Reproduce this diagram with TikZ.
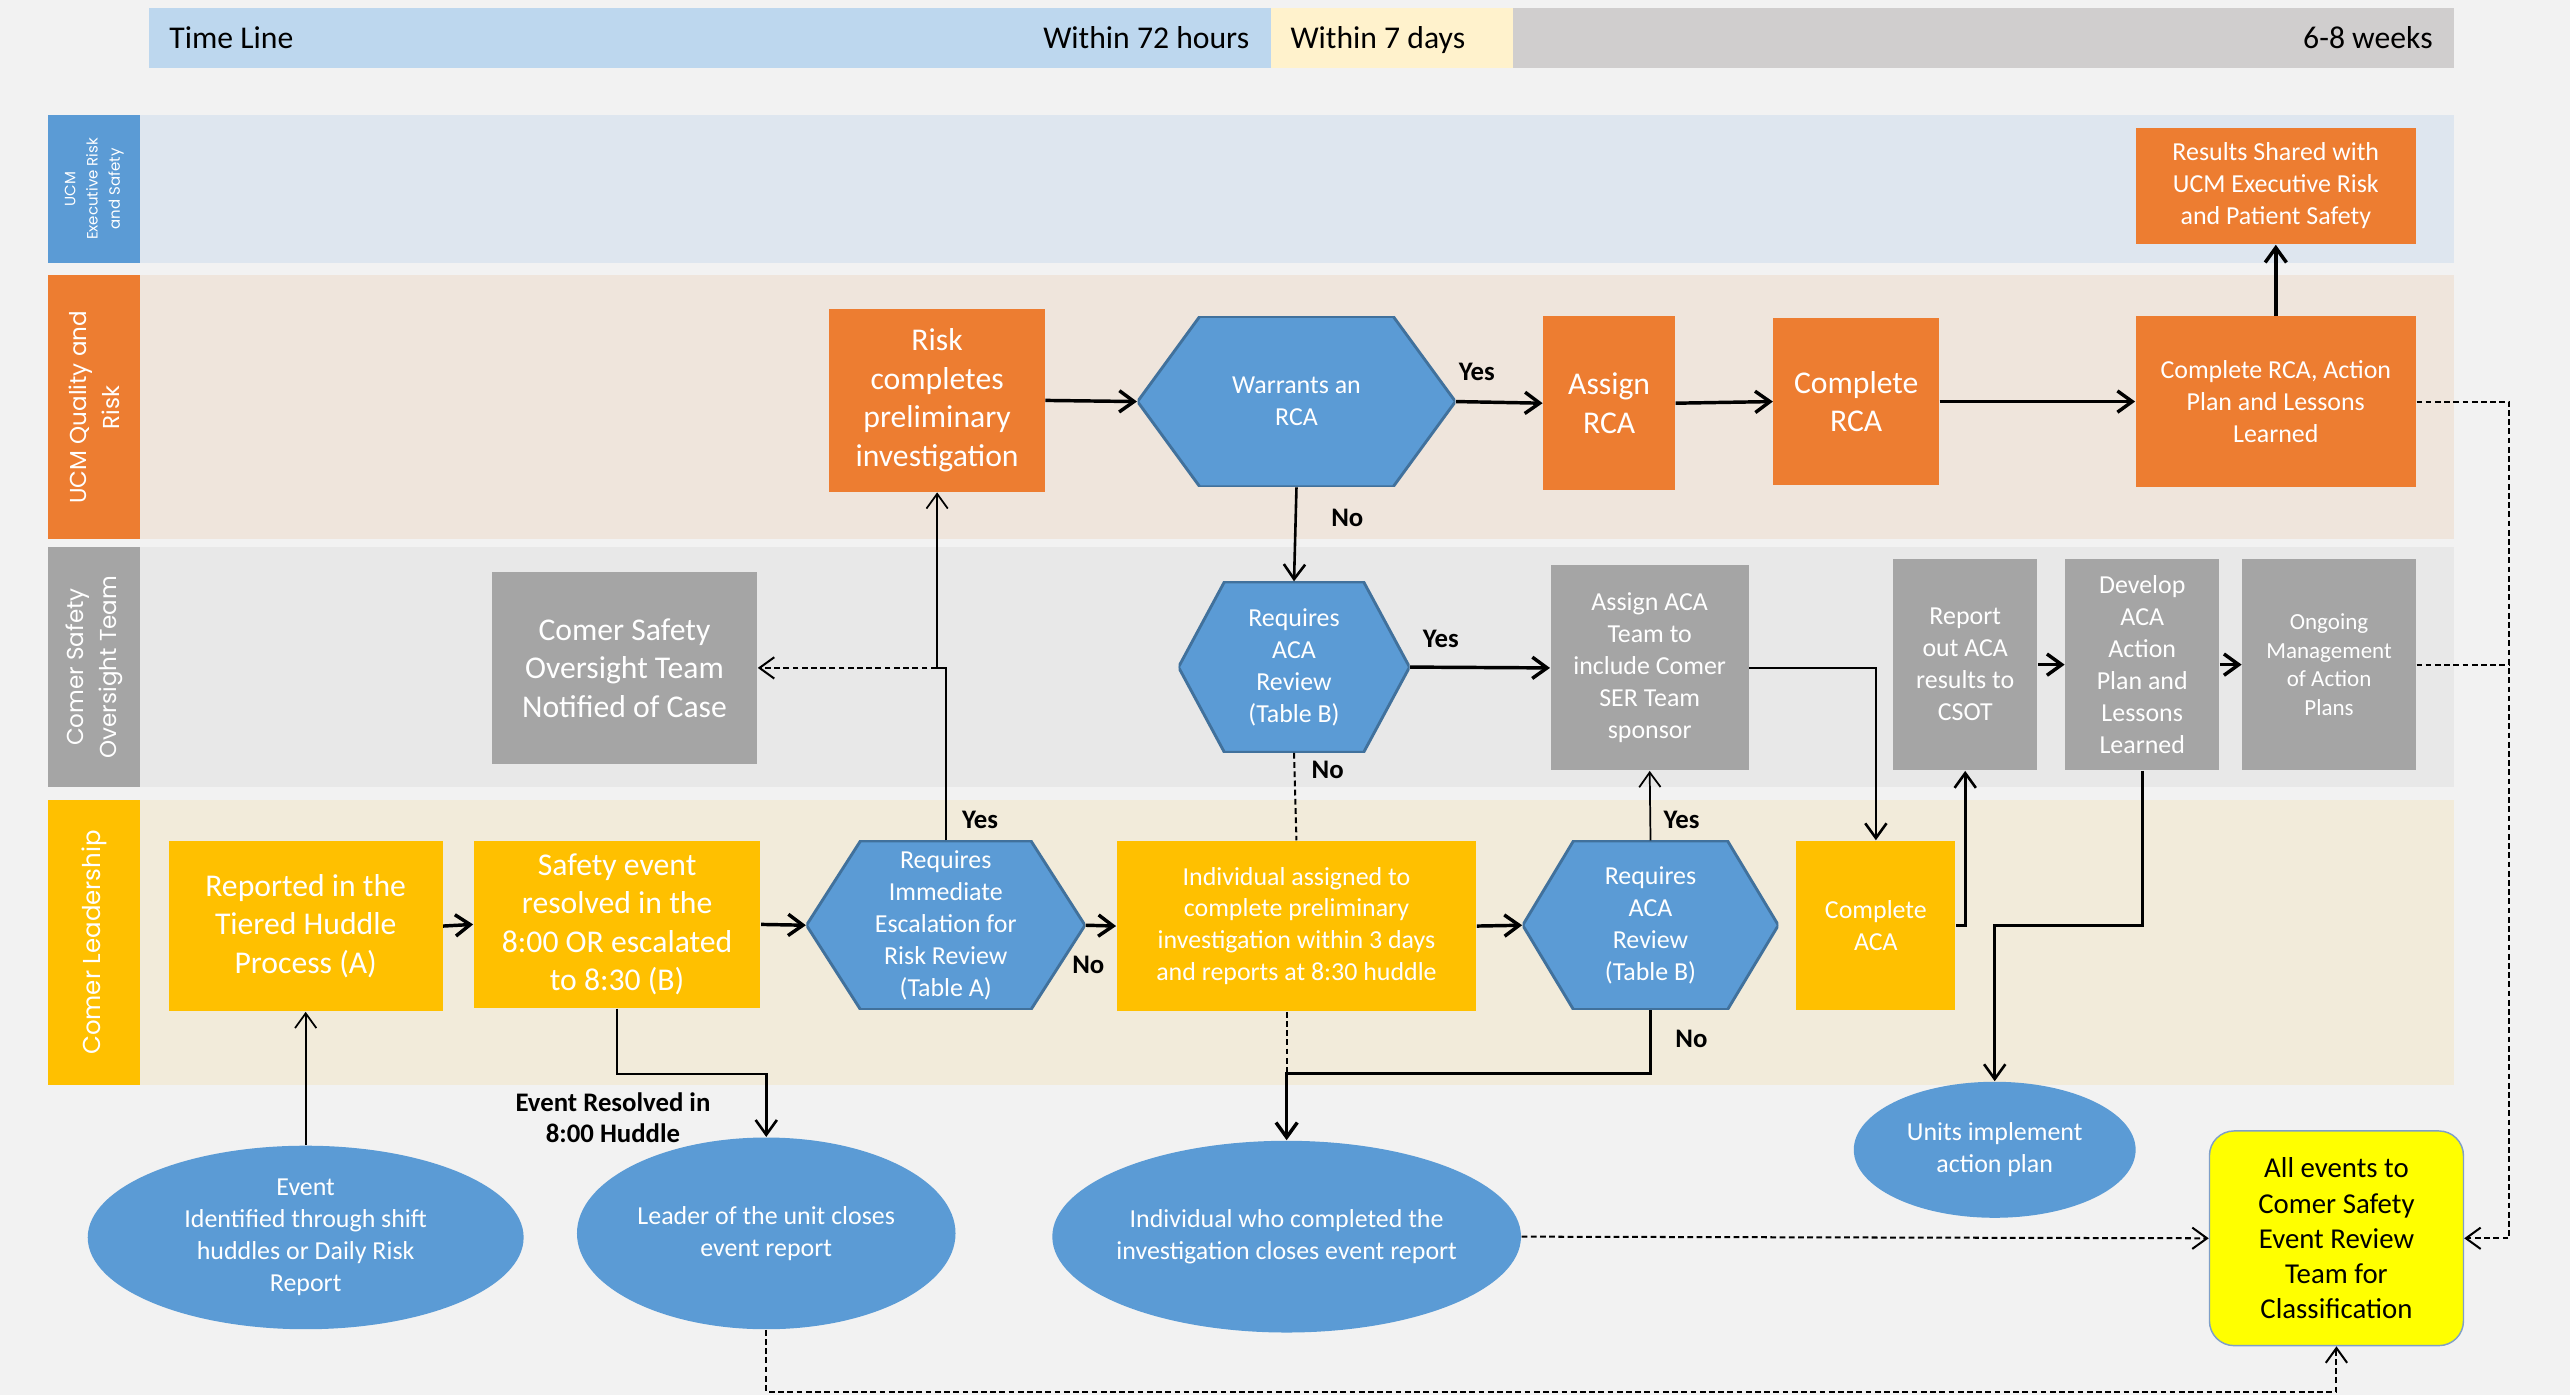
\documentclass[tikz,border=0pt]{standalone}
\usepackage{fontspec}
\setmainfont{Carlito}
\newfontfamily\lanefont{Poppins}
\usetikzlibrary{arrows.meta, shapes.geometric}

\definecolor{pagegray}{HTML}{F2F2F2}
\definecolor{tlblue}{HTML}{BDD7EE}
\definecolor{tlyellow}{HTML}{FFF2CC}
\definecolor{tlgray}{HTML}{D0CECE}
\definecolor{laneblue}{HTML}{DEE6EF}
\definecolor{lanepeach}{HTML}{EFE5DC}
\definecolor{lanegray}{HTML}{E8E8E8}
\definecolor{lanecream}{HTML}{F2EBDA}
\definecolor{ucmblue}{HTML}{5B9BD5}
\definecolor{hexline}{HTML}{41719C}
\definecolor{riskorange}{HTML}{ED7D31}
\definecolor{csotgray}{HTML}{A5A5A5}
\definecolor{leadyellow}{HTML}{FFC000}
\definecolor{allyellow}{HTML}{FFFF00}
\definecolor{allline}{HTML}{7F9FC8}

\newcommand{\fbig}{\fontsize{11}{13.4}\selectfont}
\newcommand{\fmid}{\fontsize{9}{11.1}\selectfont}
\newcommand{\fsml}{\fontsize{8}{10}\selectfont}
\newcommand{\fyn}{\fontsize{9.3}{10.8}\selectfont\bfseries}
\newcommand{\hexin}{0.64cm}

\tikzset{
  box/.style={shape=rectangle, align=center, text=white, inner sep=0pt},
  orangebox/.style={box, fill=riskorange},
  graybox/.style={box, fill=csotgray},
  yellowbox/.style={box, fill=leadyellow},
  oval/.style={shape=ellipse, fill=ucmblue, text=white, align=center, font=\fmid, inner sep=0pt},
  hexinset/.code={\def\hexin{#1}},
  hexbox/.style={shape=rectangle, align=center, text=white, font=\fmid, inner sep=0pt,
    path picture={
      \path[fill=ucmblue, draw=hexline, line width=1pt]
        ([xshift=\hexin]path picture bounding box.north west)
        -- ([xshift=-\hexin]path picture bounding box.north east)
        -- (path picture bounding box.east)
        -- ([xshift=-\hexin]path picture bounding box.south east)
        -- ([xshift=\hexin]path picture bounding box.south west)
        -- (path picture bounding box.west) -- cycle;}},
  lanelabel/.style={rotate=90, text=white, align=center, inner sep=0pt, minimum height=1.12cm},
  yn/.style={font=\fyn, inner sep=0pt},
  wire/.style={-{Straight Barb[length=1.8mm,width=2.6mm]}, line width=1.2pt},
  thinwire/.style={-{Straight Barb[length=1.8mm,width=2.6mm]}, line width=0.6pt},
  dashwire/.style={line width=0.7pt, dash pattern=on 2pt off 1.2pt},
  dasharrow/.style={dashwire, -{Straight Barb[length=1.8mm,width=2.6mm]}},
}

\begin{document}
\begin{tikzpicture}[x=0.02cm, y=-0.02cm]
	% Background and time line:
	\fill[pagegray] (0,0) rectangle (1568,851);
	\useasboundingbox (0,0) rectangle (1568,851);
	\fill[tlblue] (91,5) rectangle (775.5,41.5);
	\fill[tlyellow] (775.5,5) rectangle (923,41.5);
	\fill[tlgray] (923,5) rectangle (1497,41.5);
	\node[anchor=base west, inner sep=0pt, font=\fbig] (tlstart) at (103,29.5) {Time Line};
	\node[anchor=base east, inner sep=0pt, font=\fbig] (tlhours) at (762.5,29.5) {Within 72 hours};
	\node[anchor=base west, inner sep=0pt, font=\fbig] (tldays) at (787,29.5) {Within 7 days};
	\node[anchor=base east, inner sep=0pt, font=\fbig] (tlweeks) at (1484.5,29.5) {6-8 weeks};

	% Swim lanes:
	\fill[laneblue] (85.5,70) rectangle (1497,160.5);
	\fill[lanepeach] (85.5,168) rectangle (1497,329);
	\fill[lanegray] (85.5,334) rectangle (1497,480);
	\fill[lanecream] (85.5,488) rectangle (1497,662);
	\node[lanelabel, fill=ucmblue, minimum width=1.81cm, font=\lanefont\fontsize{5.2}{7.7}\selectfont] (lane1) at (57.5,115.25) {UCM\\Executive Risk\\and Safety};
	\node[lanelabel, fill=riskorange, minimum width=3.22cm, font=\lanefont\fontsize{8}{11.4}\selectfont] (lane2) at (57.5,248.5) {UCM Quality and\\Risk};
	\node[lanelabel, fill=csotgray, minimum width=2.92cm, font=\lanefont\fontsize{8}{11.4}\selectfont] (lane3) at (57.5,407) {Comer Safety\\Oversight Team};
	\node[lanelabel, fill=leadyellow, minimum width=3.48cm, font=\lanefont\fontsize{8.5}{11.4}\selectfont] (lane4) at (57.5,575) {Comer Leadership};

	% Steps:
	\node[orangebox, font=\fmid, minimum width=3.42cm, minimum height=1.42cm] (results) at (1388.5,113.5) {Results Shared with\\UCM Executive Risk\\and Patient Safety};
	\node[orangebox, font=\fbig, minimum width=2.63cm, minimum height=2.23cm] (risk) at (571.75,244.3) {Risk\\completes\\preliminary\\investigation};
	\node[hexbox, hexinset=0.76cm, minimum width=3.88cm, minimum height=2.08cm] (warrants) at (791,245) {Warrants an\\RCA};
	\node[orangebox, font=\fbig, minimum width=1.61cm, minimum height=2.12cm] (assignrca) at (981.75,246) {Assign\\RCA};
	\node[orangebox, font=\fbig, minimum width=2.02cm, minimum height=2.04cm] (completerca) at (1132.5,245) {Complete\\RCA};
	\node[orangebox, font=\fmid, minimum width=3.42cm, minimum height=2.08cm] (rcaplan) at (1388.5,245) {Complete RCA, Action\\Plan and Lessons\\Learned};
	\node[graybox, font=\fbig, minimum width=3.24cm, minimum height=2.34cm] (notified) at (381,407.5) {Comer Safety\\Oversight Team\\Notified of Case};
	\node[hexbox, hexinset=0.56cm, minimum width=2.82cm, minimum height=2.08cm] (acathree) at (789.5,407) {Requires\\ACA\\Review\\(Table B)};
	\node[graybox, font=\fmid, minimum width=2.42cm, minimum height=2.5cm] (assignaca) at (1006.5,407.5) {Assign ACA\\Team to\\include Comer\\SER Team\\sponsor};
	\node[graybox, font=\fmid, minimum width=1.76cm, minimum height=2.58cm] (reportout) at (1199,405.5) {Report\\out ACA\\results to\\CSOT};
	\node[graybox, font=\fmid, minimum width=1.88cm, minimum height=2.58cm] (develop) at (1307,405.5) {Develop\\ACA\\Action\\Plan and\\Lessons\\Learned};
	\node[graybox, font=\fsml, minimum width=2.12cm, minimum height=2.58cm] (ongoing) at (1421,405.5) {Ongoing\\Management\\of Action\\Plans};
	\node[yellowbox, font=\fbig, minimum width=3.34cm, minimum height=2.08cm] (reported) at (186.5,565) {Reported in the\\Tiered Huddle\\Process (A)};
	\node[yellowbox, font=\fbig, minimum width=3.5cm, minimum height=2.04cm] (safety) at (376.5,564) {Safety event\\resolved in the\\8:00 OR escalated\\to 8:30 (B)};
	\node[hexbox, hexinset=0.66cm, minimum width=3.4cm, minimum height=2.06cm] (escalate) at (577,564.5) {Requires\\Immediate\\Escalation for\\Risk Review\\(Table A)};
	\node[yellowbox, font=\fmid, minimum width=4.39cm, minimum height=2.08cm] (individual) at (791,565) {Individual assigned to\\complete preliminary\\investigation within 3 days\\and reports at 8:30 huddle};
	\node[hexbox, hexinset=0.62cm, minimum width=3.12cm, minimum height=2.06cm] (acafour) at (1007,564.5) {Requires\\ACA\\Review\\(Table B)};
	\node[yellowbox, font=\fmid, minimum width=1.94cm, minimum height=2.06cm] (completeaca) at (1144.5,564.5) {Complete\\ACA};
	\node[oval, minimum width=5.32cm, minimum height=2.24cm] (event) at (186.5,755) {Event\\Identified through shift\\huddles or Daily Risk\\Report};
	\node[oval, minimum width=4.62cm, minimum height=2.34cm] (leader) at (467.5,752.5) {Leader of the unit closes\\event report};
	\node[oval, inner xsep=-2mm, minimum width=5.72cm, minimum height=2.34cm] (closer) at (785,754.5) {Individual who completed the\\investigation closes event report};
	\node[oval, minimum width=3.44cm, minimum height=1.66cm] (units) at (1217,701.5) {Units implement\\action plan};
	\node[shape=rectangle, rounded corners=0.3cm, fill=allyellow, draw=allline, line width=0.5pt, align=center, inner sep=0pt, font=\fontsize{10}{12.2}\selectfont, minimum width=3.1cm, minimum height=2.62cm] (allevents) at (1425.5,755.5) {All events to\\Comer Safety\\Event Review\\Team for\\Classification};

	% Wires:
	\coordinate (yesfork) at (escalate.north |- notified.east);
	\coordinate (devbend) at (develop.south |- completeaca.east);
	\coordinate (nobend) at (closer.north |- 0,655);
	\coordinate (bottomrun) at (leader.south |- 0,849);
	\coordinate (rightrun) at (1531,245);
	\draw[thinwire] (event.north) -- (reported.south);
	\draw[wire] (reported.east) -- (safety.west);
	\draw[wire] (safety.east) -- (escalate.west);
	\draw[wire] (escalate.east) -- (individual.west);
	\draw[wire] (individual.east) -- (acafour.west);
	\draw[wire] (risk.east) -- (warrants.west);
	\draw[wire] (warrants.east) -- (assignrca.west);
	\draw[wire] (assignrca.east) -- (completerca.west);
	\draw[wire] (completerca.east) -- (rcaplan.west);
	\draw[wire] (rcaplan.north) -- (results.south);
	\draw[wire, line width=0.9pt] (warrants.south) -- (acathree.north);
	\draw[wire] (acathree.east) -- (assignaca.west);
	\draw[wire] (reportout.east) -- (develop.west);
	\draw[wire] (develop.east) -- (ongoing.west);
	\draw[wire, line width=0.9pt] (assignaca.east) -| (completeaca.north);
	\draw[wire, line width=0.9pt] (completeaca.east) -| (reportout.south);
	\draw[wire, line width=0.9pt] (develop.south) -- (devbend) -| (units.north);
	\draw[thinwire] (acafour.north) -- (assignaca.south);
	\draw[thinwire] (escalate.north) -- (yesfork) -| (risk.south);
	\draw[dasharrow] (yesfork) -- (notified.east);
	\draw[wire, line width=0.9pt] (safety.south) -- ++(0,40) -| (leader.north);
	\draw[dashwire] (acathree.south) -- (individual.north);
	\draw[dashwire] (nobend |- individual.south) -- (nobend);
	\draw[wire] (acafour.south) |- (nobend) -- (closer.north);
	\draw[dasharrow] (leader.south) -- (bottomrun) -| (allevents.south);
	\draw[dasharrow] (closer.east) -- (allevents.west);
	\draw[dasharrow] (rcaplan.east) -- (rightrun) |- (allevents.east);
	\draw[dashwire] (ongoing.east) -- (ongoing.east -| rightrun);

	% Labels:
	\node[yn] (yesrca) at (901,227) {Yes};
	\node[yn] (norca) at (822,316) {No};
	\node[yn] (yesaca) at (879,390) {Yes};
	\node[yn] (noaca) at (810,470) {No};
	\node[yn] (yesesc) at (598,500) {Yes};
	\node[yn] (noesc) at (664,589) {No};
	\node[yn] (yesreview) at (1026,500) {Yes};
	\node[yn] (noreview) at (1032,634) {No};
	\node[yn, align=center] (resolved) at (374,682) {Event Resolved in\\8:00 Huddle};
\end{tikzpicture}
\end{document}
